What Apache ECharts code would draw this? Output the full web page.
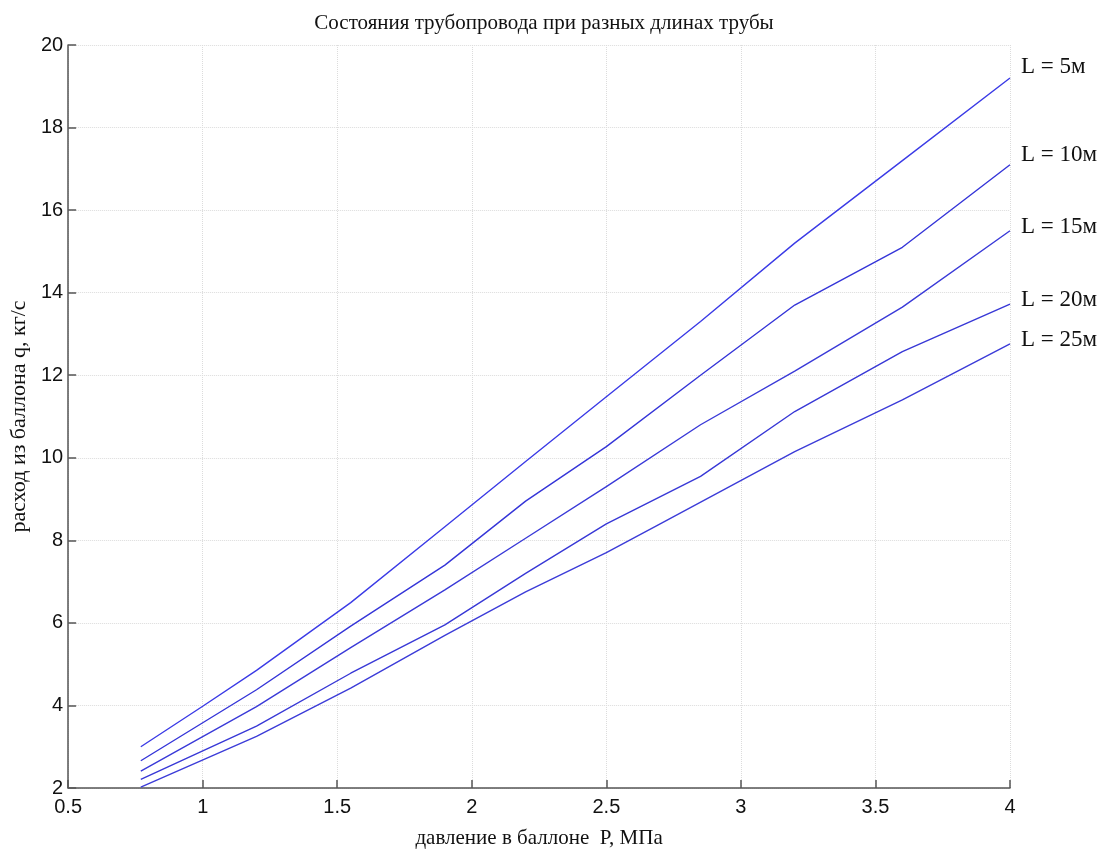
<!DOCTYPE html>
<html>
<head>
<meta charset="utf-8">
<script src="https://cdn.jsdelivr.net/npm/echarts@6/dist/echarts.min.js"></script>
<style>
html,body{margin:0;padding:0;background:#fff;}
#chart{width:1113px;height:854px;}
</style>
</head>
<body>
<div id="chart"></div>
<script>
// Data
const titleText = 'Состояния трубопровода при разных длинах трубы';
const xName = 'давление в баллоне  P, МПа';
const yName = 'расход из баллона q, кг/с';
const seriesNames = ['L = 5м', 'L = 10м', 'L = 15м', 'L = 20м', 'L = 25м'];

const pL5  = [0.77, 1.0, 1.2, 1.55, 1.9, 2.2, 2.5, 2.85, 3.2, 3.6, 4.0];
const qL5  = [3.0, 3.98, 4.85, 6.49, 8.33, 9.91, 11.48, 13.3, 15.2, 17.2, 19.2];

const pL10 = [0.77, 1.2, 1.55, 1.9, 2.2, 2.5, 2.85, 3.2, 3.6, 4.0];
const qL10 = [2.66, 4.38, 5.92, 7.4, 8.95, 10.27, 12.0, 13.7, 15.1, 17.1];

const pL15 = [0.77, 1.2, 1.55, 1.9, 2.2, 2.5, 2.85, 3.2, 3.6, 4.0];
const qL15 = [2.41, 3.97, 5.4, 6.8, 8.05, 9.3, 10.8, 12.1, 13.65, 15.5];

const pL20 = [0.77, 1.2, 1.55, 1.9, 2.2, 2.5, 2.85, 3.2, 3.6, 4.0];
const qL20 = [2.21, 3.5, 4.78, 5.95, 7.2, 8.4, 9.55, 11.12, 12.57, 13.72];

const pL25 = [0.77, 1.2, 1.55, 1.9, 2.2, 2.5, 2.7, 3.2, 3.6, 4.0];
const qL25 = [2.02, 3.25, 4.42, 5.7, 6.75, 7.7, 8.4, 10.15, 11.4, 12.76];

const xTicks = [0.5, 1, 1.5, 2, 2.5, 3, 3.5, 4];
const yTicks = [2, 4, 6, 8, 10, 12, 14, 16, 18, 20];

const allP = [pL5, pL10, pL15, pL20, pL25];
const allQ = [qL5, qL10, qL15, qL20, qL25];
const labelOffsets = [[3, -11], [3, -10], [3, -4], [3, -4], [3, -4]];
const lineColors = ['#3b3be6', '#3535d8', '#3a3ad8', '#3838d6', '#3c3cd8'];

const chart = echarts.init(document.getElementById('chart'), null, {renderer: 'canvas'});

const series = seriesNames.map((name, i) => ({
  name: name,
  type: 'line',
  data: allP[i].map((p, j) => [p, allQ[i][j]]),
  showSymbol: false,
  symbol: 'none',
  lineStyle: {color: lineColors[i], width: 1.4},
  itemStyle: {color: lineColors[i]},
  emphasis: {disabled: true},
  endLabel: {
    show: true,
    formatter: name,
    offset: labelOffsets[i],
    fontFamily: 'Liberation Serif',
    fontSize: 23,
    color: '#111'
  },
  animation: false
}));

chart.setOption({
  animation: false,
  backgroundColor: '#fff',
  title: {
    text: titleText,
    left: 539,
    textAlign: 'center',
    top: 8,
    textStyle: {fontFamily: 'Liberation Serif', fontSize: 21, fontWeight: 'normal', color: '#111'}
  },
  grid: {left: 67, right: 103, top: 45, bottom: 66, containLabel: false},
  xAxis: {
    type: 'value',
    min: 0.5, max: 4, interval: 0.5,
    name: xName,
    nameLocation: 'middle',
    nameGap: 40,
    nameTextStyle: {fontFamily: 'Liberation Serif', fontSize: 21, color: '#111'},
    axisLine: {show: true, onZero: false, lineStyle: {color: '#555', width: 1.5}},
    axisTick: {show: true, inside: true, length: 8, lineStyle: {color: '#555', width: 1.5}},
    axisLabel: {
      fontFamily: 'Liberation Sans', fontSize: 20, color: '#111', margin: 9,
      formatter: v => (xTicks.indexOf(v) >= 0 ? String(v) : '')
    },
    splitLine: {show: true, lineStyle: {color: '#dcdcdc', type: 'dotted', width: 1}}
  },
  yAxis: {
    type: 'value',
    min: 2, max: 20, interval: 2,
    name: yName,
    nameLocation: 'middle',
    nameGap: 37,
    nameTextStyle: {fontFamily: 'Liberation Serif', fontSize: 22, color: '#111'},
    axisLine: {show: true, onZero: false, lineStyle: {color: '#555', width: 1.5}},
    axisTick: {show: true, inside: true, length: 8, lineStyle: {color: '#555', width: 1.5}},
    axisLabel: {
      fontFamily: 'Liberation Sans', fontSize: 20, color: '#111', margin: 5,
      formatter: v => (yTicks.indexOf(v) >= 0 ? String(v) : '')
    },
    splitLine: {show: true, lineStyle: {color: '#dcdcdc', type: 'dotted', width: 1}}
  },
  series: series
});
</script>
</body>
</html>
